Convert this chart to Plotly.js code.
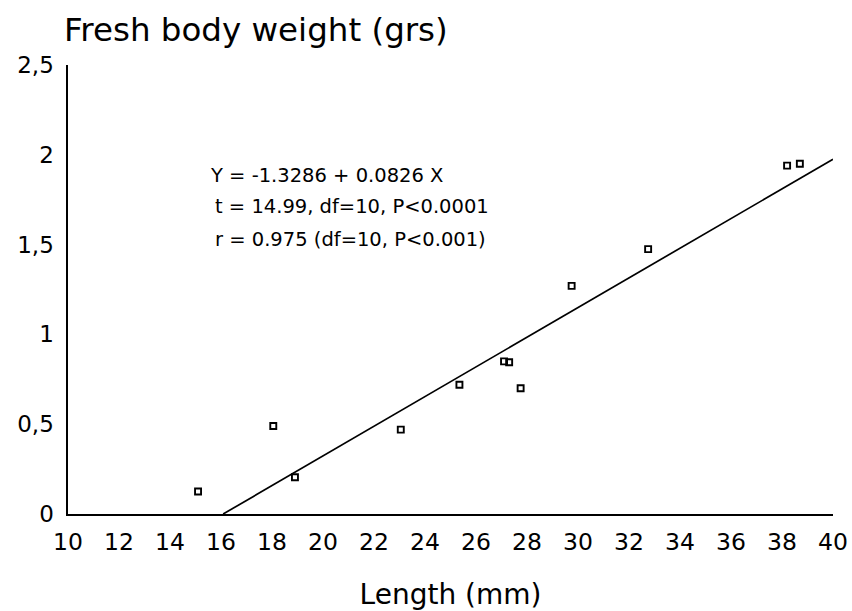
<!DOCTYPE html>
<html>
<head>
<meta charset="utf-8">
<script src="https://cdn.plot.ly/plotly-3.0.1.min.js"></script>
<style>html,body{margin:0;padding:0;background:#fff;}</style>
</head>
<body>
<div id="chart" style="width:852px;height:611px;"></div>
<script>
// Observed data (length in mm, fresh body weight in grams)
var lengthMm = [15.1, 18.05, 18.9, 23.05, 25.35, 27.1, 27.3, 27.75, 29.75, 32.75, 38.2, 38.7];
var weightG  = [0.125, 0.49, 0.205, 0.47, 0.72, 0.85, 0.845, 0.70, 1.27, 1.475, 1.94, 1.95];

// Regression fit Y = a + b X
var fitIntercept = -1.3286;
var fitSlope = 0.0826;
var fitXEnd = 40;

var xTickVals = [10, 12, 14, 16, 18, 20, 22, 24, 26, 28, 30, 32, 34, 36, 38, 40];
var yTickVals = [0, 0.5, 1, 1.5, 2, 2.5];
var yTickText = ["0", "0,5", "1", "1,5", "2", "2,5"];

var statLines = [
  "Y = -1.3286 + 0.0826 X",
  "t = 14.99, df=10, P<0.0001",
  "r = 0.975 (df=10, P<0.001)"
];

var fitXStart = -fitIntercept / fitSlope;
var fitX = [fitXStart, fitXEnd];
var fitY = fitX.map(function (x) { return fitIntercept + fitSlope * x; });

var FONT = "DejaVu Sans, Liberation Sans, Arial, sans-serif";

var traces = [
  {
    x: fitX, y: fitY, type: "scatter", mode: "lines",
    line: {color: "#000", width: 1.7}, hoverinfo: "skip", showlegend: false
  },
  {
    x: lengthMm, y: weightG, type: "scatter", mode: "markers",
    marker: {symbol: "square-open", size: 6, color: "#000", line: {width: 1.9, color: "#000"}},
    showlegend: false
  }
];

var annX = [15.5, 15.7, 15.7];
var annY = [1.883, 1.711, 1.528];
var annotations = statLines.map(function (t, i) {
  return {
    text: t, x: annX[i], y: annY[i], xref: "x", yref: "y",
    xanchor: "left", yanchor: "middle", showarrow: false,
    font: {family: FONT, size: 19.5, color: "#000"}
  };
});
annotations.push({
  text: "Fresh body weight (grs)", xref: "paper", yref: "paper",
  x: -0.008, y: 1.078, xanchor: "left", yanchor: "middle", showarrow: false,
  font: {family: FONT, size: 32.5, color: "#000"}
});

var layout = {
  width: 852, height: 611,
  margin: {l: 68, r: 19, t: 65, b: 97},
  paper_bgcolor: "#fff", plot_bgcolor: "#fff",
  font: {family: FONT, color: "#000"},
  showlegend: false,
  xaxis: {
    range: [10, 40], tickvals: xTickVals, ticktext: xTickVals.map(String),
    showgrid: false, zeroline: false, showline: true, linecolor: "#000", linewidth: 2,
    ticks: "", ticklabelstandoff: 6,
    tickfont: {family: FONT, size: 23.5, color: "#000"},
    title: {text: "Length (mm)", font: {family: FONT, size: 28, color: "#000"}, standoff: 34}
  },
  yaxis: {
    range: [0, 2.5], tickvals: yTickVals, ticktext: yTickText,
    showgrid: false, zeroline: false, showline: true, linecolor: "#000", linewidth: 1.6,
    ticks: "", ticklabelstandoff: 8,
    tickfont: {family: FONT, size: 23, color: "#000"}
  },
  annotations: annotations
};

Plotly.newPlot("chart", traces, layout, {displayModeBar: false, staticPlot: true});
</script>
</body>
</html>
